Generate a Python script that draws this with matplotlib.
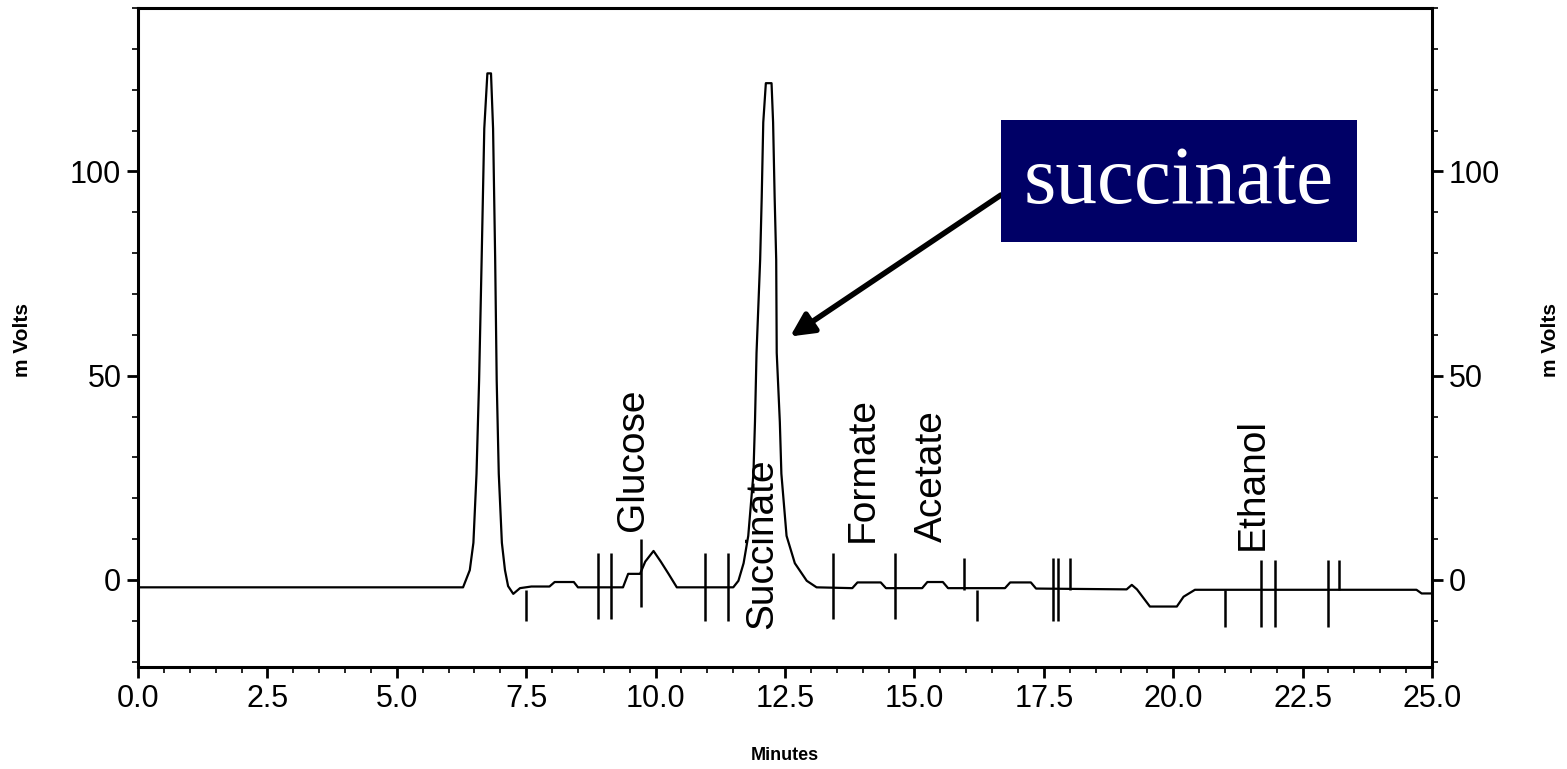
import numpy as np
import matplotlib
matplotlib.use("Agg")
import matplotlib.pyplot as plt
from matplotlib.ticker import MultipleLocator, FormatStrFormatter
from matplotlib.patches import Rectangle

# detector trace (minutes, mV)
time_min = [0.0, 6.28, 6.41, 6.48, 6.54, 6.59, 6.64, 6.69, 6.75, 6.82,
            6.86, 6.90, 6.93, 6.97, 7.03, 7.09, 7.15, 7.25, 7.38, 7.6,
            7.95, 8.05, 8.42, 8.5,
            9.37, 9.47, 9.70, 9.80, 9.96, 10.1, 10.25, 10.41,
            11.5, 11.60, 11.70, 11.79, 11.89, 11.92, 11.95, 12.02, 12.05,
            12.08, 12.13, 12.24, 12.27, 12.30, 12.33, 12.34, 12.40, 12.43,
            12.53, 12.69, 12.92, 13.11,
            13.8, 13.9, 14.35, 14.45, 15.15, 15.25, 15.55, 15.65, 16.75,
            16.85, 17.25, 17.35,
            19.1, 19.2, 19.3, 19.55, 20.07, 20.2, 20.42, 24.7, 24.8, 25.0]
signal_mv = [-1.8, -1.8, 2.4, 9.1, 26, 48.8, 79, 110.5, 124, 124,
             110.5, 79, 48.8, 26, 9.1, 2.4, -1.5, -3.4, -2.0, -1.6,
             -1.6, -0.5, -0.5, -1.8,
             -1.8, 1.5, 1.5, 4.5, 7.1, 4.5, 1.5, -1.8,
             -1.8, -0.2, 4.1, 10.8, 26, 38.7, 55.6, 78.4, 93.6,
             112, 121.6, 121.6, 112, 93.6, 78.4, 55.6, 38.7, 26,
             10.8, 4.1, -0.2, -1.8,
             -2.0, -0.6, -0.6, -2.0, -2.0, -0.5, -0.5, -2.0, -2.0,
             -0.6, -0.6, -2.1,
             -2.3, -1.2, -2.3, -6.5, -6.5, -4.1, -2.4, -2.4, -3.3, -3.3]

# integration marks: position, lower end, upper end (mV)
mark_t = [7.5, 8.89, 9.14, 9.72, 10.96, 11.4, 13.43, 14.63, 15.95, 16.2,
          17.68, 17.78, 18.0, 21.0, 21.69, 21.97, 23.0, 23.2]
mark_lo = [-10, -9.5, -9.5, -6.5, -10, -10, -9.5, -9.5, -2.5, -10,
           -10, -10, -2.5, -11.5, -11.5, -11.5, -11.5, -2.5]
mark_hi = [-2.5, 6.5, 6.5, 10, 6.5, 6.5, 6.5, 6.5, 5.5, -2.5,
           5.5, 5.5, 5.5, -2.5, 5, 5, 5, 5]

peak_names = ["Glucose", "Succinate", "Formate", "Acetate", "Ethanol"]
peak_label_t = [9.56, 12.06, 14.0, 15.34, 21.54]
peak_label_y = [12, -12, 9.3, 9.3, 7.4]

callout = "succinate"
callout_tip = (12.6, 59.6)

x_ticks = np.arange(0, 25.01, 2.5)
y_ticks = [0, 50, 100]

plt.rcParams["font.family"] = ["Liberation Sans", "DejaVu Sans"]

fig = plt.figure(figsize=(15.67, 7.69), dpi=100)
ax = fig.add_axes([138 / 1567, 1 - 667 / 769, 1294 / 1567, 659 / 769])

ax.plot(time_min, signal_mv, color="black", lw=1.6)
ax.vlines(mark_t, mark_lo, mark_hi, color="black", lw=1.8)

for name, t, y in zip(peak_names, peak_label_t, peak_label_y):
    ax.text(t, y, name, rotation=90, ha="center", va="bottom", fontsize=28)

ax.set_xlim(0, 25)
ax.set_ylim(-21.3, 140)
ax.set_xticks(x_ticks)
ax.xaxis.set_major_formatter(FormatStrFormatter("%.1f"))
ax.set_yticks(y_ticks)
ax.xaxis.set_minor_locator(MultipleLocator(0.5))
ax.yaxis.set_minor_locator(MultipleLocator(10))
ax.tick_params(which="major", direction="out", length=8, width=2,
               labelsize=22, pad=4)
ax.tick_params(which="minor", direction="out", length=4, width=1.2)
for s in ax.spines.values():
    s.set_linewidth(2.2)

ax2 = ax.twinx()
ax2.set_ylim(ax.get_ylim())
ax2.set_yticks(y_ticks)
ax2.yaxis.set_minor_locator(MultipleLocator(10))
ax2.tick_params(which="major", direction="out", length=8, width=2,
                labelsize=22, pad=4)
ax2.tick_params(which="minor", direction="out", length=4, width=1.2)

fig.text(22 / 1567, 1 - 340 / 769, "m Volts", rotation=90, ha="center",
         va="center", fontsize=15, fontweight="bold")
fig.text(1550 / 1567, 1 - 340 / 769, "m Volts", rotation=90, ha="center",
         va="center", fontsize=15, fontweight="bold")
fig.text(785 / 1567, 1 - 755 / 769, "Minutes", ha="center", va="center",
         fontsize=13, fontweight="bold")

# navy callout box with arrow to the succinate peak
box = Rectangle((1001 / 1567, 1 - 242 / 769), 356 / 1567, 122 / 769,
                transform=fig.transFigure, facecolor="#000066",
                edgecolor="none", zorder=5)
fig.patches.append(box)
fig.text(1179 / 1567, 1 - 183 / 769, callout, ha="center", va="center",
         color="white", fontsize=60, family="Liberation Serif", zorder=6)
ax.annotate("", xy=callout_tip, xycoords="data",
            xytext=(1001 / 1567, 1 - 195 / 769), textcoords="figure fraction",
            arrowprops=dict(arrowstyle="-|>", color="black", lw=4,
                            mutation_scale=35, shrinkA=0, shrinkB=0))

fig.savefig("out.png", dpi=100)
